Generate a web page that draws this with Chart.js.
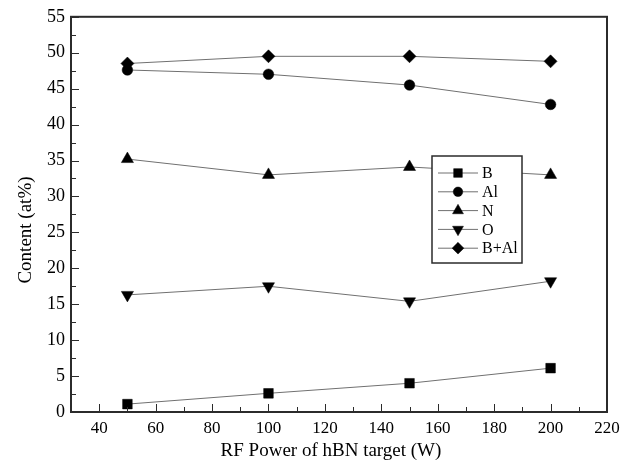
<!DOCTYPE html>
<html>
<head>
<meta charset="utf-8">
<script src="https://cdn.jsdelivr.net/npm/chart.js@4/dist/chart.umd.min.js"></script>
<style>
  html, body { margin: 0; padding: 0; background: #fff; }
  #wrap { width: 632px; height: 468px; position: relative; }
</style>
</head>
<body>
<div id="wrap"><canvas id="c" width="632" height="468"></canvas></div>
<script>
// ── Data ──────────────────────────────────────────────
const power   = [50, 100, 150, 200];
const bVals   = [1.1, 2.6, 4.0, 6.1];
const alVals  = [47.6, 47.0, 45.5, 42.8];
const nVals   = [35.2, 33.0, 34.1, 33.0];
const oVals   = [16.3, 17.5, 15.4, 18.2];
const bAlVals = [48.5, 49.5, 49.5, 48.8];

const seriesNames = ['B', 'Al', 'N', 'O', 'B+Al'];
const xTicks = [40, 60, 80, 100, 120, 140, 160, 180, 200, 220];
const yTicks = [0, 5, 10, 15, 20, 25, 30, 35, 40, 45, 50, 55];

const SERIF = "'Liberation Serif', 'DejaVu Serif', serif";
const LINE  = '#707070';
const INK   = '#000000';
const FRAME = '#2b2b2b';

const toPts = vals => vals.map((v, i) => ({ x: power[i], y: v }));

function mkSet(label, vals, style, radius, rotation) {
  return {
    label,
    data: toPts(vals),
    borderColor: LINE,
    borderWidth: 1,
    pointStyle: style,
    pointRotation: rotation || 0,
    pointRadius: radius,
    pointBackgroundColor: INK,
    pointBorderColor: INK,
    pointBorderWidth: 0.5,
    tension: 0,
  };
}

// ── Frame, inward ticks, titles, legend ───────────────
const decor = {
  id: 'decor',
  afterDatasetsDraw(chart) {
    const { ctx, chartArea: a, scales } = chart;
    const xs = scales.x, ys = scales.y;
    ctx.save();
    ctx.strokeStyle = FRAME;
    ctx.lineWidth = 1;
    // minor + major ticks, pointing inward
    for (let v = 30; v <= 220; v += 10) {
      const px = Math.round(xs.getPixelForValue(v)) + 0.5;
      const len = v % 20 === 0 ? 8 : 5;
      ctx.beginPath(); ctx.moveTo(px, a.bottom); ctx.lineTo(px, a.bottom - len); ctx.stroke();
    }
    for (let v = 0; v <= 55; v += 2.5) {
      const py = Math.round(ys.getPixelForValue(v)) + 0.5;
      const len = v % 5 === 0 ? 8 : 5;
      ctx.beginPath(); ctx.moveTo(a.left, py); ctx.lineTo(a.left + len, py); ctx.stroke();
    }
    ctx.lineWidth = 2;
    ctx.strokeRect(a.left, a.top, a.right - a.left, a.bottom - a.top);

    // axis titles
    ctx.fillStyle = INK;
    ctx.font = '19px ' + SERIF;
    ctx.textAlign = 'center';
    ctx.textBaseline = 'middle';
    ctx.fillText('RF Power of hBN target (W)', 331, 451);
    ctx.save();
    ctx.translate(26, 230);
    ctx.rotate(-Math.PI / 2);
    ctx.fillText('Content (at%)', 0, 0);
    ctx.restore();

    // legend box
    const bx = 432, by = 156, bw = 90, bh = 107;
    ctx.fillStyle = '#fff';
    ctx.fillRect(bx, by, bw, bh);
    ctx.lineWidth = 1.5;
    ctx.strokeStyle = FRAME;
    ctx.strokeRect(bx, by, bw, bh);
    ctx.font = '16px ' + SERIF;
    ctx.textAlign = 'left';
    chart.data.datasets.forEach((ds, i) => {
      const y = by + 17 + i * 18.8;
      ctx.strokeStyle = LINE;
      ctx.lineWidth = 1;
      ctx.beginPath(); ctx.moveTo(bx + 6, y); ctx.lineTo(bx + 46, y); ctx.stroke();
      ctx.fillStyle = INK;
      ctx.strokeStyle = INK;
      ctx.lineWidth = 0.5;
      Chart.helpers.drawPoint(ctx, {
        pointStyle: ds.pointStyle,
        rotation: ds.pointRotation,
        radius: ds.pointRadius * 0.9,
        borderWidth: 0.5,
      }, bx + 26, y);
      ctx.fillStyle = INK;
      ctx.fillText(seriesNames[i], bx + 50, y + 1);
    });
    ctx.restore();
  }
};

new Chart(document.getElementById('c'), {
  type: 'line',
  data: {
    datasets: [
      mkSet(seriesNames[0], bVals,   'rect',     6.8),
      mkSet(seriesNames[1], alVals,  'circle',   5.3),
      mkSet(seriesNames[2], nVals,   'triangle', 7),
      mkSet(seriesNames[3], oVals,   'triangle', 7, 180),
      mkSet(seriesNames[4], bAlVals, 'rectRot',  6.5),
    ]
  },
  options: {
    responsive: false,
    animation: false,
    layout: { padding: { left: 0, top: 13, right: 25, bottom: 0 } },
    plugins: { legend: { display: false }, tooltip: { enabled: false } },
    scales: {
      x: {
        type: 'linear',
        min: 30, max: 220,
        grid: { display: false, drawTicks: false },
        border: { display: false },
        afterBuildTicks: s => { s.ticks = xTicks.map(v => ({ value: v })); },
        afterFit: s => { s.height = 56; },
        ticks: { color: INK, padding: 6, font: { family: SERIF, size: 17 }, maxRotation: 0, autoSkip: false },
      },
      y: {
        type: 'linear',
        min: 0, max: 55,
        grid: { display: false, drawTicks: false },
        border: { display: false },
        afterBuildTicks: s => { s.ticks = yTicks.map(v => ({ value: v })); },
        afterFit: s => { s.width = 71; },
        ticks: { color: INK, padding: 6, font: { family: SERIF, size: 18 }, autoSkip: false },
      }
    }
  },
  plugins: [decor]
});
</script>
</body>
</html>
